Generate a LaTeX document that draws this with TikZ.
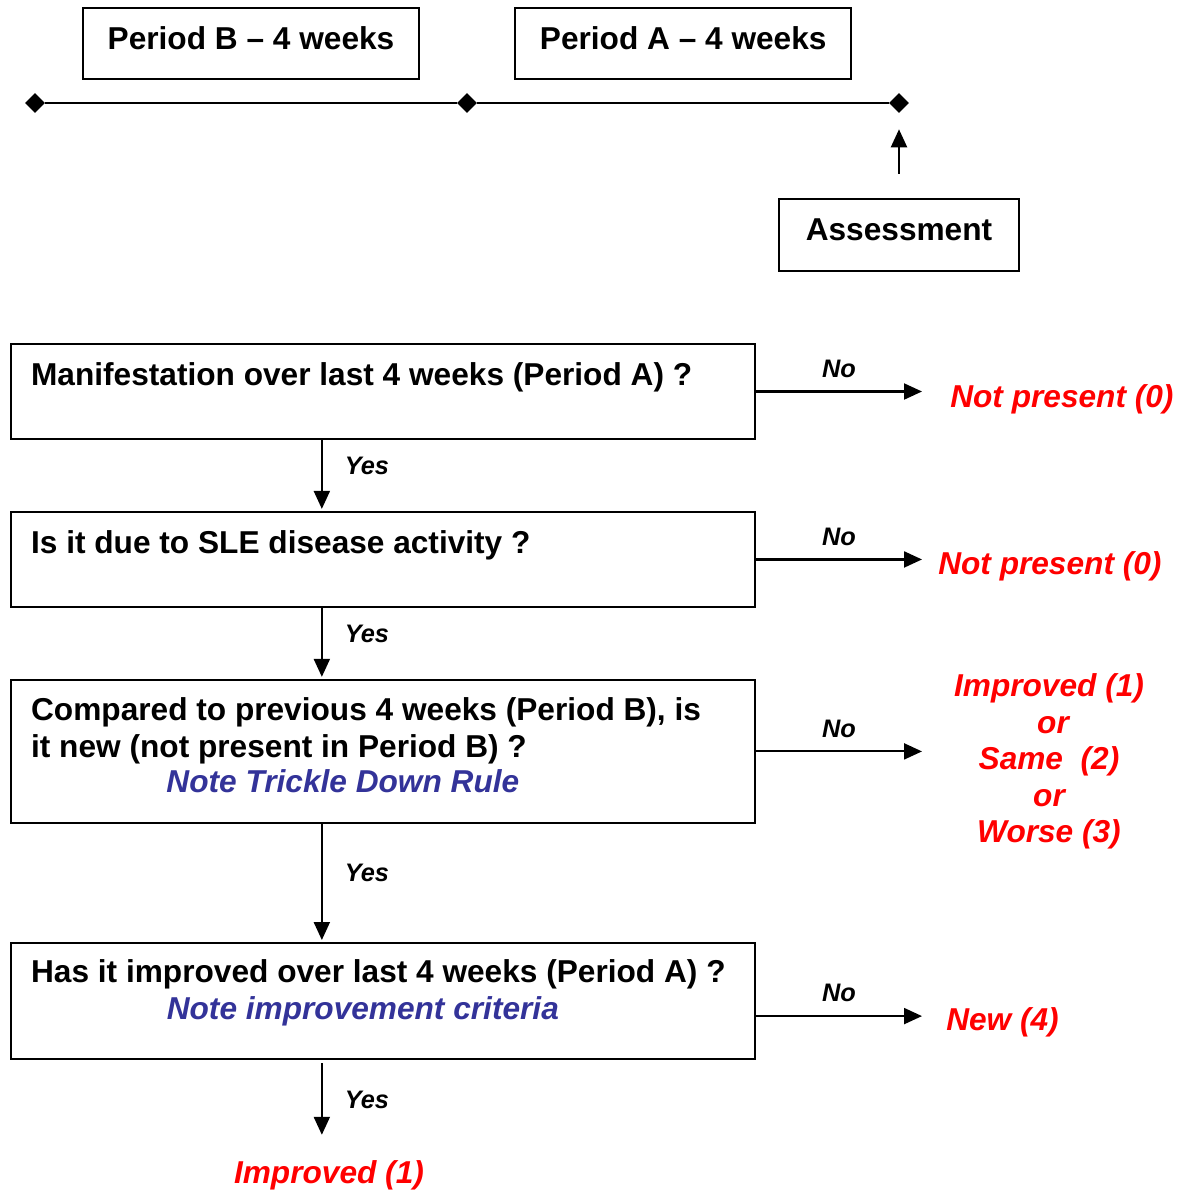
\documentclass[tikz,border=0pt]{standalone}
\usepackage{fontspec}
\setmainfont{Liberation Sans}
\usetikzlibrary{arrows.meta,shapes.geometric,positioning,calc}
\definecolor{noteblue}{RGB}{51,51,153}
\newcommand{\qsize}{\fontsize{22.5}{26}\selectfont}

\begin{document}
\begin{tikzpicture}[x=0.025cm, y=-0.025cm, %
        font=\bfseries,
        line/.style={line width=1.5pt},
        arr/.style={line, -{Triangle[length=0.45cm, width=0.4cm]}},
        box/.style={draw, line, inner sep=0pt, minimum width=18.6cm},
        period/.style={draw, line, minimum height=1.775cm, font=\bfseries\qsize,
          text height=16pt, text depth=7.5pt},
        dot/.style={diamond, fill, inner sep=0pt, minimum size=0.5cm},
        qtext/.style={anchor=base west, inner sep=0pt, font=\bfseries\qsize},
        note/.style={anchor=base, inner sep=0pt, text=noteblue, font=\bfseries\itshape\qsize},
        res/.style={inner sep=0pt, text=red, font=\bfseries\itshape\fontsize{22.5}{25.9}\selectfont},
        yes/.style={midway, anchor=west, inner sep=0pt, xshift=0.55cm, yshift=0.24cm,
          font=\bfseries\itshape\fontsize{18}{20}\selectfont},
        no/.style={midway, above=0.325cm, inner sep=0pt,
          font=\bfseries\itshape\fontsize{18}{20}\selectfont}
        ]
        \useasboundingbox (0,0) rectangle (1190,1190);

        \node[period, minimum width=8.4cm] (B) at (251,43.5) {Period B -- 4 weeks};
        \node[period, minimum width=8.4cm, right=2.35cm of B] (A) {Period A -- 4 weeks};
        \node[dot] (t0) at (35,103) {};
        \node[dot] (t1) at (467,103) {};
        \node[dot] (t2) at (899,103) {};
        \draw[line] (t0) -- (t1) -- (t2);
        \node[period, minimum width=6cm, minimum height=1.8cm] (S) at (899,235) {Assessment};
        \draw[arr, shorten <=0.6cm, shorten >=0.4cm] (S) -- (t2);

        \node[box, minimum height=2.375cm] (Q1) at (383,391.5) {};
        \node[box, minimum height=2.375cm, below=1.77cm of Q1] (Q2) {};
        \node[box, minimum height=3.575cm, below=1.77cm of Q2] (Q3) {};
        \node[box, minimum height=2.9cm, below=2.95cm of Q3] (Q4) {};

        \node[qtext] (l1) at ($(Q1.north west)+(21,43)$) {Manifestation over last 4 weeks (Period A) ?};
        \node[qtext] (l2) at ($(Q2.north west)+(21,43)$) {Is it due to SLE disease activity ?};
        \node[qtext] (l3a) at ($(Q3.north west)+(21,42)$) {Compared to previous 4 weeks (Period B), is};
        \node[qtext] (l3b) at ($(Q3.north west)+(21,79)$) {it new (not present in Period B) ?};
        \node[note] (n3) at ($(Q3.north west)+(333,114)$) {Note Trickle Down Rule};
        \node[qtext] (l4) at ($(Q4.north west)+(21,40)$) {Has it improved over last 4 weeks (Period A) ?};
        \node[note] (n4) at ($(Q4.north west)+(353,77)$) {Note improvement criteria};

        \coordinate (yx) at ($(Q1.south west)+(312,0)$);
        \coordinate (ne) at (922,0);
        \coordinate (q4o) at ($(Q4.east)+(0,15)$);

        \node[res, anchor=base west] (R1) at ($(Q1.east -| ne)+(28,16)$) {Not present (0)};
        \node[res, anchor=base west] (R2) at ($(Q2.east -| ne)+(16,15)$) {Not present (0)};
        \node[res, align=center] (R3) at ($(Q3.east -| ne)+(127,10)$)
          {Improved (1)\\ \hspace*{0.2cm}or\\ Same~~(2)\\ or\\ Worse (3)};
        \node[res, anchor=base west] (R4) at ($(q4o -| ne)+(24,14)$) {New (4)};
        \node[res, anchor=base] (R5) at (329,1183) {Improved (1)};

        \draw[arr, shorten >=0.05cm] (Q1.south -| yx) -- node[yes]{Yes} (Q2.north -| yx);
        \draw[arr, shorten >=0.05cm] (Q2.south -| yx) -- node[yes]{Yes} (Q3.north -| yx);
        \draw[arr, shorten >=0.05cm] (Q3.south -| yx) -- node[yes]{Yes} (Q4.north -| yx);
        \draw[arr, shorten <=0.075cm, shorten >=0.625cm] (Q4.south -| yx) -- node[yes]{Yes} (R5.north -| yx);

        \draw[arr] (Q1.east) -- node[no]{No} (Q1.east -| ne);
        \draw[arr] (Q2.east) -- node[no]{No} (Q2.east -| ne);
        \draw[arr] (Q3.east) -- node[no]{No} (Q3.east -| ne);
        \draw[arr] (q4o) -- node[no]{No} (q4o -| ne);
      \end{tikzpicture}
\end{document}
